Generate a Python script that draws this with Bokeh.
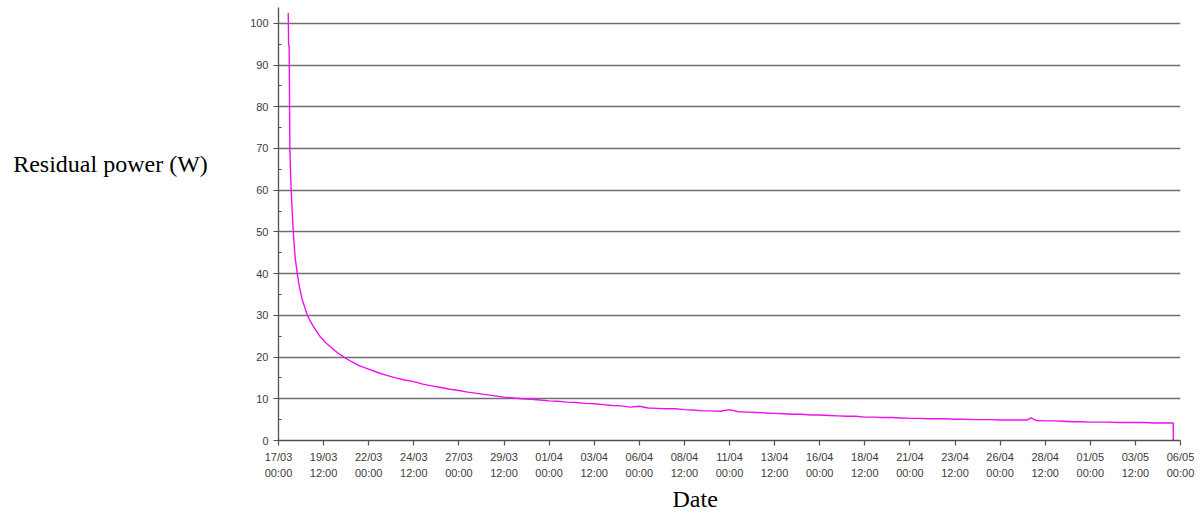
from bokeh.plotting import figure
from bokeh.models import FixedTicker, Title, Range1d
from bokeh.layouts import row
from bokeh.core.properties import value
from bokeh.embed import file_html
from bokeh.resources import INLINE

# Elapsed time in days since 17/03 00:00, and residual power in W
days = [0.54, 0.56, 0.59, 0.63, 0.70, 0.82, 0.92, 1.04, 1.15, 1.3, 1.45, 1.6, 1.75, 1.96, 2.15,
        2.33, 2.6, 2.89, 3.25, 3.63,
        4.0, 4.5, 5.0, 5.5, 6.0, 6.5, 7.0, 7.5, 8.0, 8.5, 9.0, 9.5, 10.0, 10.5, 11.0, 11.5,
        12.0, 12.5, 13.0, 13.5, 14.0, 14.5, 15.0, 15.5, 16.0, 16.5, 17.0, 17.5, 18.0, 18.5,
        19.0, 19.5, 20.0, 20.5, 21.0, 21.5, 22.0, 22.5, 23.0, 23.5, 24.0, 24.5, 25.0, 25.5,
        26.0, 26.5, 27.0, 27.5, 28.0, 28.5, 29.0, 29.5, 30.0, 30.5, 31.0, 31.5, 32.0, 32.5,
        33.0, 33.5, 34.0, 34.5, 35.0, 35.5, 36.0, 36.5, 37.0, 37.5, 38.0, 38.5, 39.0, 39.5,
        40.0, 40.5, 41.0, 41.5, 41.7, 42.0, 42.5, 43.0, 43.5, 44.0, 44.5, 45.0, 45.5, 46.0,
        46.5, 47.0, 47.5, 48.0, 48.5, 49.0, 49.6, 49.6]
power = [102.5, 95.0, 94.5, 70.0, 60.0, 50.0, 44.0, 40.0, 37.0, 34.0, 32.0, 30.0, 28.7, 27.2, 25.9,
         24.8, 23.5, 22.4, 21.1, 20.0,
         19.0, 17.9, 17.1, 16.3, 15.6, 15.0, 14.5, 14.1, 13.5, 13.1, 12.7, 12.3, 12.0, 11.6, 11.3, 11.0,
         10.7, 10.4, 10.2, 10.0, 9.9, 9.7, 9.5, 9.4, 9.2, 9.1, 8.9, 8.8, 8.6, 8.4,
         8.3, 8.0, 8.2, 7.8, 7.7, 7.6, 7.6, 7.4, 7.3, 7.1, 7.1, 7.0, 7.4, 6.9,
         6.8, 6.7, 6.6, 6.5, 6.4, 6.3, 6.3, 6.1, 6.1, 6.0, 5.9, 5.8, 5.8, 5.6,
         5.6, 5.5, 5.5, 5.4, 5.3, 5.3, 5.2, 5.2, 5.2, 5.1, 5.1, 5.0, 5.0, 5.0,
         4.9, 4.9, 4.9, 4.9, 5.4, 4.8, 4.7, 4.7, 4.6, 4.5, 4.5, 4.4, 4.4, 4.4,
         4.3, 4.3, 4.3, 4.3, 4.2, 4.2, 4.2, 0.0]

# X tick positions (days since 17/03 00:00) and their labels
tick_days = [0, 2.5, 5, 7.5, 10, 12.5, 15, 17.5, 20, 22.5, 25, 27.5, 30, 32.5, 35,
             37.5, 40, 42.5, 45, 47.5, 50]
tick_labels = ["17/03\n00:00", "19/03\n12:00", "22/03\n00:00", "24/03\n12:00", "27/03\n00:00",
               "29/03\n12:00", "01/04\n00:00", "03/04\n12:00", "06/04\n00:00", "08/04\n12:00",
               "11/04\n00:00", "13/04\n12:00", "16/04\n00:00", "18/04\n12:00", "21/04\n00:00",
               "23/04\n12:00", "26/04\n00:00", "28/04\n12:00", "01/05\n00:00", "03/05\n12:00",
               "06/05\n00:00"]
y_ticks = [0, 10, 20, 30, 40, 50, 60, 70, 80, 90, 100]
y_minor = [5, 15, 25, 35, 45, 55, 65, 75, 85, 95]
y_title = "Residual power (W)"
x_title = "Date"

H = 513

# left panel holding the horizontal y-axis title
lp = figure(width=230, height=H, output_backend="svg", toolbar_location=None,
            x_range=Range1d(0, 230), y_range=Range1d(H, 0),
            min_border=0, min_border_left=0, min_border_right=0,
            min_border_top=0, min_border_bottom=0)
lp.axis.visible = False
lp.grid.visible = False
lp.outline_line_color = None
lp.text(x=[12.7], y=[186.0], text=[y_title], text_font=value("Liberation Serif"),
        text_font_size="24px", text_color="black", text_align="left",
        text_baseline="alphabetic")

# main chart
p = figure(width=970, height=H, output_backend="svg", toolbar_location=None,
           x_range=Range1d(0, 50), y_range=Range1d(0, 103.8),
           min_border_left=48, min_border_right=20, min_border_top=7, min_border_bottom=73)
p.outline_line_color = None

p.line(days, power, line_color="#ee10ee", line_width=1.4)

p.xaxis.ticker = FixedTicker(ticks=tick_days)
p.xaxis.major_label_overrides = {t: l for t, l in zip(tick_days, tick_labels)}
p.yaxis.ticker = FixedTicker(ticks=y_ticks, minor_ticks=y_minor)

for ax in (p.xaxis[0], p.yaxis[0]):
    ax.axis_line_color = "#505050"
    ax.axis_line_width = 1.3
    ax.major_tick_line_color = "#505050"
    ax.major_tick_line_width = 1.2
    ax.major_tick_in = 0
    ax.major_tick_out = 5
    ax.major_label_text_font = "Liberation Sans"
    ax.major_label_text_font_size = "11px"
    ax.major_label_text_color = "#3c3c3c"

p.xaxis.minor_tick_line_color = None
p.xaxis.major_label_standoff = 5
p.xaxis.major_label_text_line_height = 1.4
p.yaxis.minor_tick_line_color = "#505050"
p.yaxis.minor_tick_in = 3
p.yaxis.minor_tick_out = 0
p.yaxis.major_label_standoff = 5

p.xgrid.grid_line_color = None
p.ygrid.grid_line_color = "#707070"
p.ygrid.grid_line_width = 1.3

p.add_layout(Title(text=x_title, align="left", offset=394, standoff=3,
                   text_font="Liberation Serif", text_font_size="24px",
                   text_font_style="normal", text_color="black"), "below")

layout = row(lp, p, spacing=0)
open("out.html", "w").write(file_html(layout, INLINE))
